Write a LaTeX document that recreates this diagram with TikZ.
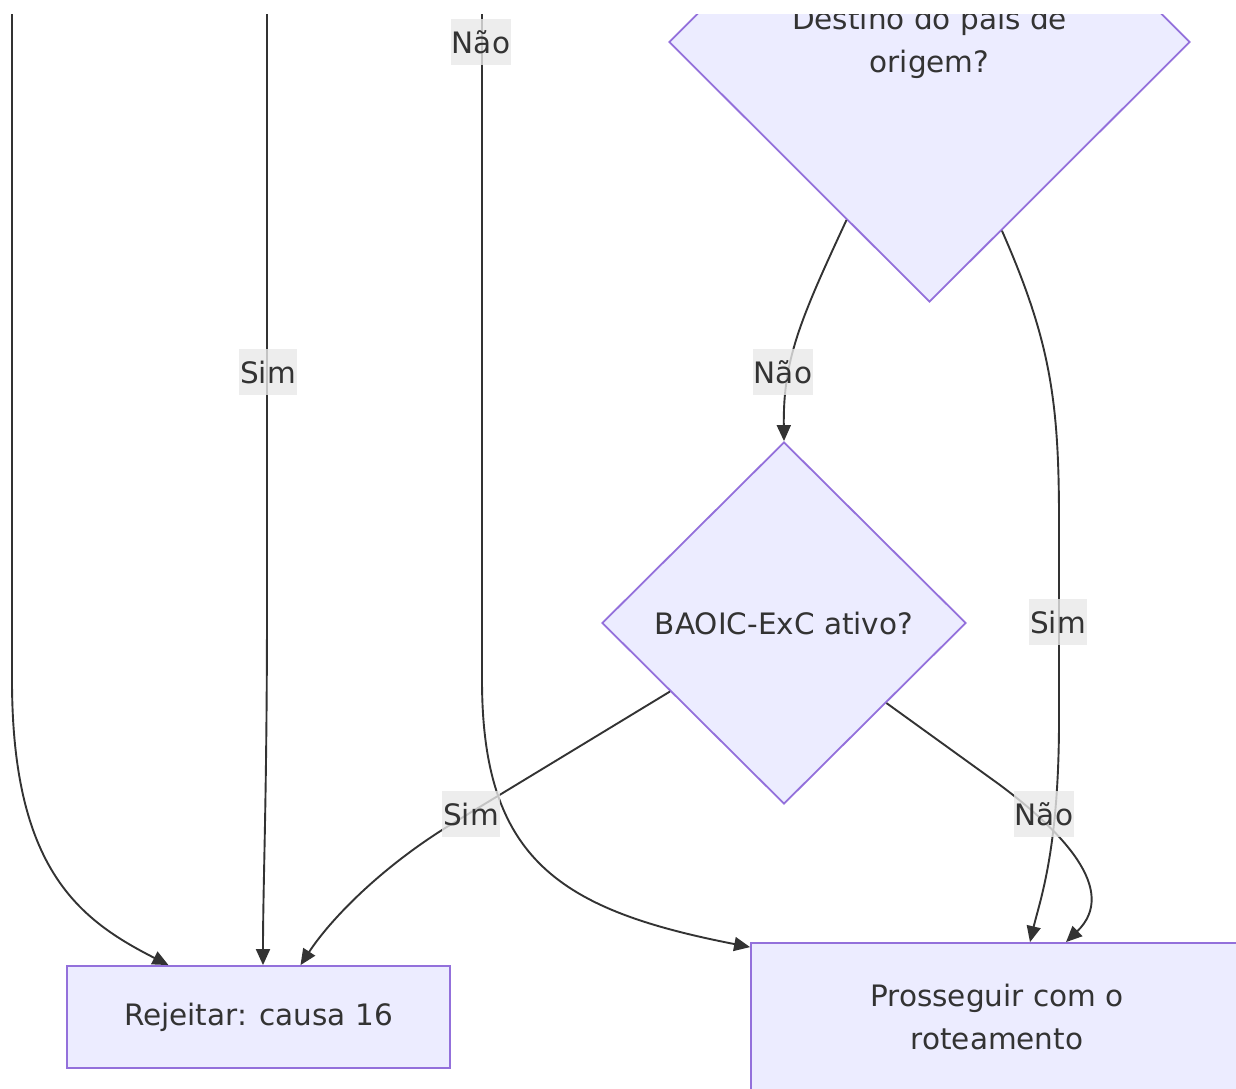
\documentclass[tikz,border=0pt]{standalone}
\usepackage{fontspec}
\setmainfont{DejaVu Sans}
\usetikzlibrary{shapes.geometric,arrows.meta}
\definecolor{nodefill}{HTML}{ECECFF}
\definecolor{nodeline}{HTML}{9370DB}
\definecolor{edgecol}{HTML}{333333}
\definecolor{lblbg}{HTML}{E8E8E8}
\begin{document}
\begin{tikzpicture}[x=1pt,y=-1pt,
  font=\fontsize{29.5}{43}\selectfont, text=edgecol,
  box/.style={rectangle, draw=nodeline, fill=nodefill, line width=1.8pt, align=center, inner sep=0pt},
  decision/.style={diamond, draw=nodeline, fill=nodefill, line width=1.8pt, align=center, inner sep=0pt, aspect=1},
  edge/.style={draw=edgecol, line width=1.9pt, -{Triangle[length=16pt,width=14pt]}},
  lbl/.style={fill=lblbg, fill opacity=0.8, text opacity=1, inner xsep=1pt, inner ysep=0pt, minimum height=46pt}]
\useasboundingbox (0,0) rectangle (1236,1088);
\clip (0,14) rectangle (1236,1088);

% nodes
\node[decision, minimum width=521pt, minimum height=520pt] (dest) at (929.5,42) {Destino do país de\\origem?};
\node[decision, minimum width=364pt, minimum height=362pt] (baoic) at (784,623) {BAOIC-ExC ativo?};
\node[box, minimum width=383pt, minimum height=102pt] (rej) at (258.5,1017) {Rejeitar: causa 16};
\node[box, minimum width=492pt, minimum height=148pt] (pro) at (997,1017) {Prosseguir com o\\roteamento};

% free ends of connectors entering from above
\coordinate (inA) at (12,0);
\coordinate (inB) at (267,0);
\coordinate (inC) at (482,0);

% connectors
\draw[edge] (inA) -- (12,680) .. controls (12,870) and (80,920) .. ([xshift=-90pt]rej.north);
\draw[edge] (inB) -- (267,600) .. controls (267,800) and (263,880) .. ([xshift=4.5pt]rej.north);
\draw[edge] (inC) -- (482,680) .. controls (482,860) and (560,910) .. ([yshift=-5pt]pro.north west);
\draw[edge] (dest.245.9) .. controls (800,320) and (783,360) .. (baoic.north);
\draw[edge] (dest.291.4) .. controls (1050,340) and (1059,400) .. (1059,520) -- (1059,720) .. controls (1059,850) and (1040,900) .. ([xshift=33pt]pro.north);
\draw[edge] (baoic.211.3) -- (450,825) .. controls (380,868) and (330,920) .. ([xshift=42pt]rej.north);
\draw[edge] (baoic.322.7) -- (1000,785) .. controls (1060,830) and (1120,890) .. ([xshift=69pt]pro.north);

% labels
\node[lbl] (l1) at (268,372) {Sim};
\node[lbl] (l2) at (481,42) {Não};
\node[lbl] (l3) at (783,372) {Não};
\node[lbl] (l4) at (1058,622) {Sim};
\node[lbl] (l5) at (471,814) {Sim};
\node[lbl] (l6) at (1044,814) {Não};
\end{tikzpicture}
\end{document}
